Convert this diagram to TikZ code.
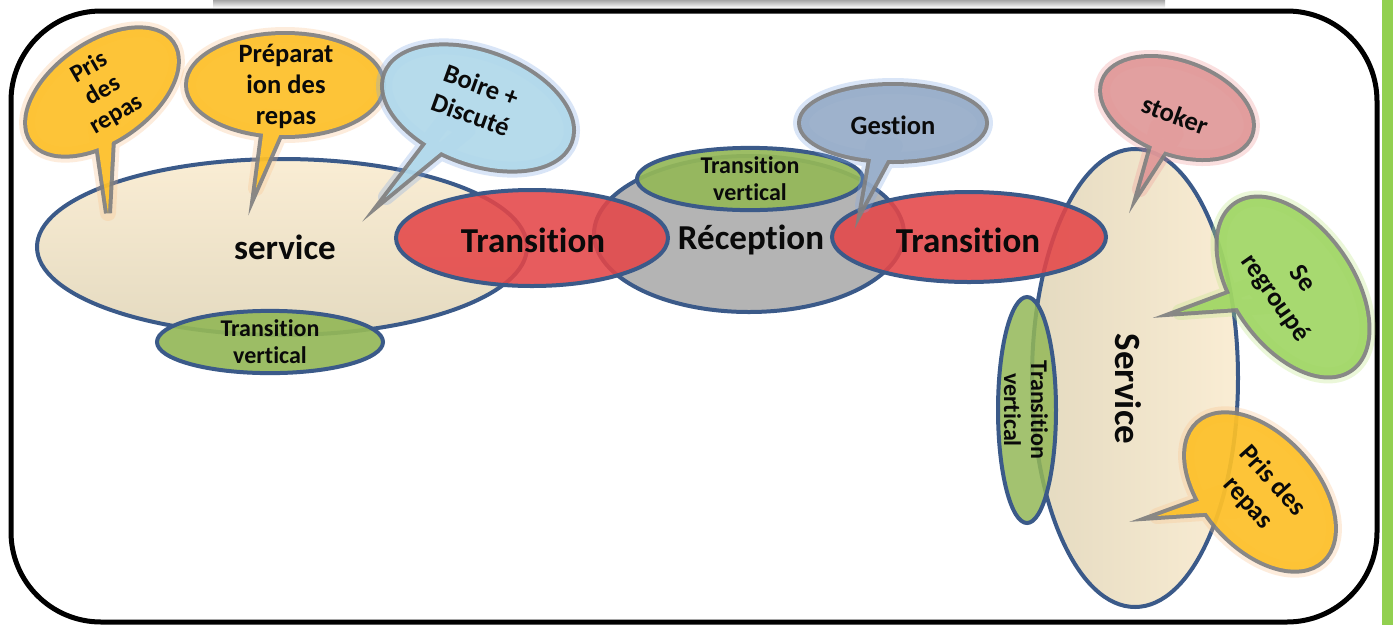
\documentclass[tikz,border=0pt]{standalone}
\usepackage{fontspec}
\setmainfont{Carlito}[Ligatures=NoCommon]
\usetikzlibrary{shapes.geometric,calc}
\definecolor{outl}{RGB}{59,90,137}
\definecolor{bubline}{RGB}{128,128,128}
\definecolor{yel}{RGB}{253,192,40}
\definecolor{yelglow}{RGB}{250,195,140}
\definecolor{lblue}{RGB}{176,216,234}
\definecolor{blueglow}{RGB}{130,170,230}
\definecolor{steel}{RGB}{150,172,200}
\definecolor{pink}{RGB}{224,152,152}
\definecolor{pinkglow}{RGB}{240,150,150}
\definecolor{lgreen}{RGB}{160,214,100}
\definecolor{greenglow}{RGB}{190,230,130}
\definecolor{tred}{RGB}{228,70,72}
\definecolor{tgreen}{RGB}{148,184,88}
\definecolor{rgray}{RGB}{180,180,180}
\definecolor{creamA}{RGB}{250,237,212}
\definecolor{creamB}{RGB}{228,218,192}
\definecolor{strip}{RGB}{146,208,80}
\definecolor{txt}{RGB}{10,10,10}
\tikzset{
  base/.style={ellipse, draw=outl, line width=4pt, inner sep=0pt, text=txt, text opacity=1},
  bigtxt/.style={font=\bfseries\fontsize{35}{40}\selectfont},
  smalltxt/.style={font=\bfseries\fontsize{24}{27}\selectfont, align=center},
  bubtxt/.style={font=\bfseries\fontsize{26.5}{31}\selectfont, align=center, text=txt},
  frame/.style={draw=black, line width=5pt, rounded corners=90pt},
}
% #1 centre, #2 rx, #3 ry, #4 angle, #5 base1, #6 base2, #7 apex, #8 fill, #9 glow
\newcommand\mybubble[9]{%
  \begin{scope}[transparency group, opacity=0.3]
    \draw[#9, line width=16pt, line join=round, rotate around={#4:#1}] #1 ellipse [x radius=#2, y radius=#3];
    \draw[#9, line width=16pt, line join=round] #7 -- ($#5!0.35!#1$) -- ($#6!0.35!#1$) -- cycle;
  \end{scope}
  \begin{scope}[transparency group, opacity=0.92]
    \draw[bubline, line width=8pt, rotate around={#4:#1}] #1 ellipse [x radius=#2, y radius=#3];
    \draw[bubline, line width=8pt, line join=miter] #7 -- ($#5!0.35!#1$) -- ($#6!0.35!#1$) -- cycle;
    \fill[#8, rotate around={#4:#1}] #1 ellipse [x radius=#2, y radius=#3];
    \fill[#8] #7 -- ($#5!0.35!#1$) -- ($#6!0.35!#1$) -- cycle;
  \end{scope}%
}
\begin{document}
\begin{tikzpicture}[x=1pt,y=1pt]
\useasboundingbox (0,0) rectangle (1393,-625);
\fill[white] (0,0) rectangle (1393,-625);
% top shadow bar and right strip
\shade[top color=gray!70, bottom color=white] (213,0) rectangle (1165,-8);
\fill[strip] (1382,0) rectangle (1393,-625);
% frame
\draw[frame] (11,-11) rectangle (1377,-622);

% main ellipses
\node[base, top color=creamA, bottom color=creamB, minimum width=490pt, minimum height=176pt] (serviceL) at (282,-247) {};
\node[base, fill=rgray, minimum width=310pt, minimum height=156pt] (reception) at (749,-234) {};
\node[base, fill=tgreen, fill opacity=0.92, minimum width=226pt, minimum height=60pt, smalltxt] (tvL) at (270,-342) {Transition\\vertical};
\node[base, fill=tgreen, fill opacity=0.92, minimum width=226pt, minimum height=56pt, smalltxt] (tvT) at (750,-179) {Transition\\vertical};
\node[base, left color=creamB, right color=creamA, minimum width=206pt, minimum height=458pt] (serviceR) at (1135,-378) {};
\node[base, fill=tgreen, fill opacity=0.85, minimum width=58pt, minimum height=226pt] (tvR) at (1027,-410) {};
\node[smalltxt, rotate=-90, text=txt] (tvRt) at (1026,-410) {Transition\\vertical};
\node[base, fill=tred, fill opacity=0.88, minimum width=272pt, minimum height=96pt] (tr1) at (532,-238) {};
\node[base, fill=tred, fill opacity=0.88, minimum width=274pt, minimum height=90pt] (tr2) at (969,-237) {};

% main labels
\node[bigtxt, text=txt] (lserv) at (285,-247) {service};
\node[bigtxt, text=txt] (ltr1) at (533,-240) {Transition};
\node[bigtxt, text=txt] (lrec) at (751,-240) {Réception};
\node[bigtxt, text=txt] (ltr2) at (968,-240) {Transition};
\node[bigtxt, text=txt, rotate=-90, font=\bfseries\fontsize{37}{40}\selectfont] (lservR) at (1128,-389) {Service};

% callouts
\mybubble{(102,-92)}{85}{48}{35}{(92,-147)}{(119,-133)}{(108,-213)}{yel}{yelglow}
\node[bubtxt, rotate=30, font=\bfseries\fontsize{25}{27}\selectfont] (b1) at (103,-91) {Pris\\des\\repas};
\mybubble{(285,-85)}{97}{50}{0}{(255,-133)}{(288,-135)}{(256,-188)}{yel}{yelglow}
\node[bubtxt] (b2) at (286,-86) {Préparat\\ion des\\repas};
\mybubble{(478,-108)}{98}{55}{-20}{(427,-126)}{(462,-142)}{(386,-197)}{lblue}{blueglow}
\node[bubtxt, rotate=-20] (b3) at (476,-100) {Boire +\\Discuté};
\mybubble{(893,-123)}{92}{37}{0}{(863,-157)}{(896,-158)}{(863,-205)}{steel}{blueglow}
\node[bubtxt] (b4) at (893,-125) {Gestion};
\mybubble{(1177,-108)}{78}{45}{-20}{(1147,-137)}{(1175,-148)}{(1140,-189)}{pink}{pinkglow}
\node[bubtxt, rotate=-20] (b5) at (1175,-115) {stoker};
\mybubble{(1293,-287)}{100}{58}{-55}{(1230,-284)}{(1257,-316)}{(1180,-312)}{lgreen}{greenglow}
\node[bubtxt, rotate=-55, font=\bfseries\fontsize{26.5}{33}\selectfont] (b6) at (1288,-289) {Se\\regroupé};
\mybubble{(1260,-492)}{92}{55}{-48}{(1200,-493)}{(1222,-521)}{(1157,-516)}{yel}{yelglow}
\node[bubtxt, rotate=-48, font=\bfseries\fontsize{26.5}{33}\selectfont] (b7) at (1260,-492) {Pris des\\repas};
\end{tikzpicture}
\end{document}
